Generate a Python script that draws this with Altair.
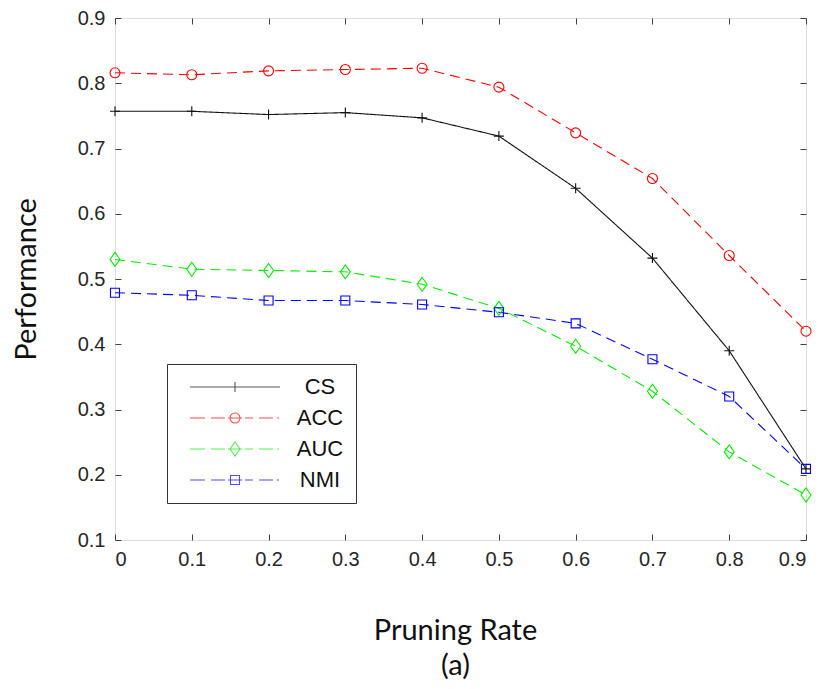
import altair as alt
import pandas as pd

# ---- data ----
rates = [0.0, 0.1, 0.2, 0.3, 0.4, 0.5, 0.6, 0.7, 0.8, 0.9]
cs = [0.757, 0.757, 0.752, 0.755, 0.747, 0.719, 0.639, 0.532, 0.390, 0.209]
acc = [0.816, 0.813, 0.819, 0.821, 0.823, 0.794, 0.724, 0.654, 0.536, 0.420]
auc = [0.530, 0.515, 0.513, 0.511, 0.492, 0.455, 0.397, 0.328, 0.235, 0.169]
nmi = [0.479, 0.475, 0.467, 0.467, 0.461, 0.449, 0.432, 0.377, 0.320, 0.209]
series = ["CS", "ACC", "AUC", "NMI"]
x_ticks = [0.0, 0.1, 0.2, 0.3, 0.4, 0.5, 0.6, 0.7, 0.8, 0.9]
y_ticks = [0.1, 0.2, 0.3, 0.4, 0.5, 0.6, 0.7, 0.8, 0.9]

# ---- styles ----
colors = ["#111111", "#ff0000", "#00ee00", "#0000ff"]
dashes = [[1, 0], [10, 6], [10, 6], [10, 6]]
marker_paths = [
    "M-1,0L1,0M0,-1L0,1",
    "M1,0A1,1,0,1,1,-1,0A1,1,0,1,1,1,0Z",
    "M0,-1.4L1,0L0,1.4L-1,0Z",
    "M-0.9,-0.9L0.9,-0.9L0.9,0.9L-0.9,0.9Z",
]
dash_segs = "M0,0L3,0M4.2,0L7,0M7.6,0L10.4,0M11,0L12.6,0M13.8,0L16.6,0M17.4,0L17.8,0"
legend_paths = [
    "M0,0L18,0M9,-1L9,1",
    dash_segs + "M10,0A1,1,0,1,1,8,0A1,1,0,1,1,10,0Z",
    dash_segs + "M9,-1.4L10,0L9,1.4L8,0Z",
    dash_segs + "M8.1,-0.9L9.9,-0.9L9.9,0.9L8.1,0.9Z",
]

W, H = 691, 522
AX = "#404040"
LBL = "#262626"
TITLE_FONT = "Lato"

rows = []
for name, vals in zip(series, [cs, acc, auc, nmi]):
    for r, v in zip(rates, vals):
        rows.append({"rate": r, "value": v, "series": name})
df = pd.DataFrame(rows)

xscale = alt.Scale(domain=[0, 0.9], nice=False, zero=False)
yscale = alt.Scale(domain=[0.1, 0.9], nice=False, zero=False)
color_scale = alt.Scale(domain=series, range=colors)


def tick_axis(orient, offset, values):
    return alt.Axis(orient=orient, offset=offset, values=values, labels=False,
                    domain=False, grid=False, ticks=True, tickSize=6,
                    tickColor=AX, tickWidth=1, title=None)


lines = alt.Chart(df).mark_line(strokeWidth=1.1).encode(
    x=alt.X("rate:Q", scale=xscale,
            axis=alt.Axis(orient="bottom", values=x_ticks, format=".1~f", ticks=False,
                          domain=False, grid=False, labelFont="Liberation Sans",
                          labelFontSize=20, labelColor=LBL, labelPadding=9,
                          title=["Pruning Rate", "(a)"], titleFont=TITLE_FONT,
                          titleFontSize=29, titleFontWeight="normal", titleColor="#111111",
                          titleX=340, titleY=99, titleBaseline="alphabetic",
                          titleLineHeight=35, titleAlign="center")),
    y=alt.Y("value:Q", scale=yscale,
            axis=alt.Axis(orient="left", values=y_ticks, format=".1f", ticks=False,
                          domain=False, grid=False, labelFont="Liberation Sans",
                          labelFontSize=20, labelColor=LBL, labelPadding=10,
                          title="Performance", titleFont=TITLE_FONT, titleFontSize=29,
                          titleFontWeight="normal", titleColor="#111111",
                          titleX=-80, titleY=261, titleBaseline="alphabetic",
                          titleAlign="center")),
    color=alt.Color("series:N", scale=color_scale, legend=None),
    strokeDash=alt.StrokeDash("series:N", scale=alt.Scale(domain=series, range=dashes), legend=None),
    detail="series:N",
)

points = alt.Chart(df).mark_point(filled=False, size=100, strokeWidth=1.1, opacity=1).encode(
    x=alt.X("rate:Q", scale=xscale, axis=tick_axis("top", -H, x_ticks)),
    y=alt.Y("value:Q", scale=yscale, axis=tick_axis("right", -W, y_ticks)),
    color=alt.Color("series:N", scale=color_scale, legend=None),
    shape=alt.Shape("series:N", scale=alt.Scale(domain=series, range=marker_paths), legend=None),
)

leg_props = dict(orient="none", legendX=52, legendY=346, title=None, padding=12,
                 labelOffset=119, labelAlign="center", labelFont="Liberation Sans",
                 labelFontSize=22, labelColor="#111111", symbolSize=100,
                 symbolStrokeWidth=1.1, rowPadding=9, strokeColor="#333333",
                 fillColor="white", labelLimit=300)

legend_layer = alt.Chart(df).transform_filter("false").mark_point(filled=False, strokeWidth=1.1).encode(
    x=alt.X("rate:Q", scale=xscale, axis=tick_axis("bottom", -H, x_ticks)),
    y=alt.Y("value:Q", scale=yscale, axis=tick_axis("left", -W, y_ticks)),
    stroke=alt.Stroke("series:N", scale=alt.Scale(domain=series, range=colors),
                      legend=alt.Legend(**leg_props)),
    shape=alt.Shape("series:N", scale=alt.Scale(domain=series, range=legend_paths),
                    legend=alt.Legend(**leg_props)),
)

chart = alt.layer(lines, points, legend_layer).resolve_axis(
    x="independent", y="independent"
).resolve_scale(
    shape="independent", stroke="independent"
).resolve_legend(
    shape="independent", stroke="independent"
).properties(
    width=W, height=H, autosize="none",
    padding={"left": 107, "top": 10, "right": 14, "bottom": 141},
).configure_view(
    stroke=AX, strokeWidth=1.2
).configure(background="white")

chart.save("out.html", embed_options={"renderer": "svg", "actions": False})
